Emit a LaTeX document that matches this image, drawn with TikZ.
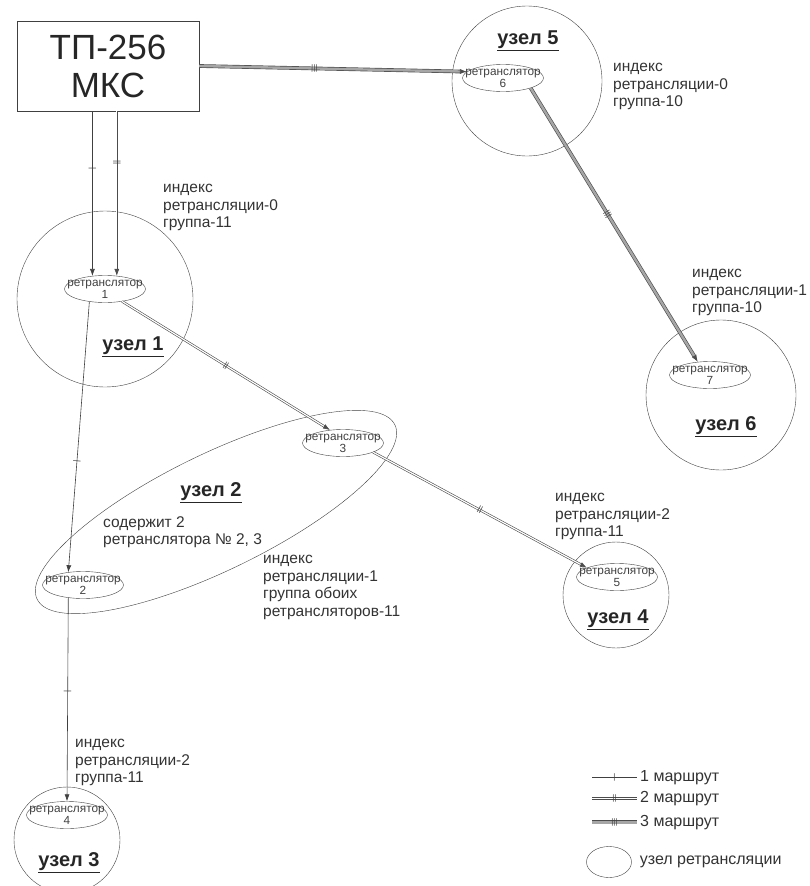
\documentclass[tikz,border=0pt]{standalone}
\usepackage{fontspec}
\setmainfont{Liberation Sans}
\usetikzlibrary{arrows.meta,shapes.geometric,positioning}

\begin{document}
\begin{tikzpicture}[x=1pt, y=-1pt,
    >={Latex[length=7pt,width=5pt]},
    rt1/.style={->, draw=black!75, line width=0.6pt},
    rt2/.style={->, draw=black!70, line width=0.6pt, double=white, double distance=1.2pt},
    rt3/.style={->, draw=black!70, line width=0.65pt, double=gray!70, double distance=2.4pt},
    tick/.style={sloped, inner sep=0pt, text=black!75, font=\fontsize{8}{8}\selectfont},
    rtext/.style={align=center, inner sep=0pt, text=black!75, font=\fontsize{11.8}{12}\selectfont},
    relay/.style={ellipse, draw=black!75, minimum width=81pt, minimum height=27pt, inner sep=0pt,
                  label={[rtext]center:{ретранслятор\\#1}}},
    hub/.style={circle, draw=black!75, inner sep=0pt},
    hubname/.style={inner sep=0pt, text=black!85, font=\fontsize{20}{20}\selectfont\bfseries},
    note/.style={anchor=north west, align=left, inner sep=0pt, text=black!80,
                 font=\fontsize{15.5}{17.5}\selectfont},
    legend/.style={anchor=west, inner sep=0pt, text=black!80, font=\fontsize{16}{16}\selectfont}
]
    \useasboundingbox (0,0) rectangle (810,886);

    \node[draw=black!75, minimum width=182pt, minimum height=90pt, align=center,
          text=black!85, font=\fontsize{35}{38}\selectfont] (mks) at (108,66) {ТП-256\\МКС};

    % nodes
    \node[hub, minimum size=176pt] (hub1) at (105,299) {};
    \node[ellipse, draw=black!75, rotate=26, minimum width=398pt, minimum height=116pt] (hub2) at (216,512) {};
    \node[hub, minimum size=106pt] (hub3) at (67,840) {};
    \node[hub, minimum size=106pt] (hub4) at (616,595) {};
    \node[hub, minimum size=150pt] (hub5) at (527,81) {};
    \node[hub, minimum size=150pt] (hub6) at (721,395) {};

    \node[relay=1] (r1) at (105,289) {};
    \node[relay=2] (r2) at (83,585) {};
    \node[relay=3] (r3) at (343,443) {};
    \node[relay=4] (r4) at (67,815) {};
    \node[relay=5] (r5) at (617,577) {};
    \node[relay=6] (r6) at (503,78) {};
    \node[relay=7] (r7) at (710,375) {};

    \node[hubname] (n1) at (133,347) {\underline{узел 1}};
    \node[hubname] (n2) at (211,493) {\underline{узел 2}};
    \node[hubname] (n3) at (69,863) {\underline{узел 3}};
    \node[hubname] (n4) at (618,620) {\underline{узел 4}};
    \node[hubname] (n5) at (528,41) {\underline{узел 5}};
    \node[hubname] (n6) at (726,427) {\underline{узел 6}};

    \node[note] (i1) at (163,184) {индекс\\ретрансляции-0\\группа-11};
    \node[note] (i2) at (263,555) {индекс\\ретрансляции-1\\группа обоих\\ретрансляторов-11};
    \node[note] (c2) at (103,516) {содержит 2\\ретранслятора № 2, 3};
    \node[note] (i3) at (75,739) {индекс\\ретрансляции-2\\группа-11};
    \node[note] (i4) at (555,493) {индекс\\ретрансляции-2\\группа-11};
    \node[note] (i5) at (613,63) {индекс\\ретрансляции-0\\группа-10};
    \node[note] (i6) at (692,269) {индекс\\ретрансляции-1\\группа-10};

    % routes
    \draw[rt1] (r1.134 |- mks.south) -- node[tick, pos=.35] {|} (r1.134);
    \draw[rt2] (r1.48 |- mks.south) -- node[tick, pos=.31] {||} (r1.48);
    \draw[rt3] (mks.east) -- node[tick, pos=.43] {|||} (r6.170);
    \draw[rt3] (r6.-20) -- node[tick, pos=.46] {|||} (r7.133);
    \draw[rt2] (r1.-36) -- node[tick] {||} (r3.135);
    \draw[rt1] (r1.-141) -- node[tick, pos=.59] {|} (r2.139);
    \draw[rt2] (r3.-17) -- node[tick] {||} (r5.163);
    \draw[rt1] (r2.-139) -- node[tick, pos=.46] {|} (r4.north);

    % legend
    \coordinate (l1a) at (592,777.3); \coordinate (l1b) at (637,777.3);
    \coordinate (l2a) at (592,798.3); \coordinate (l2b) at (637,798.3);
    \coordinate (l3a) at (592,822.3); \coordinate (l3b) at (637,822.3);
    \draw[rt1, -] (l1a) -- node[tick] {|} (l1b);
    \draw[rt2, -] (l2a) -- node[tick] {||} (l2b);
    \draw[rt3, -] (l3a) -- node[tick] {|||} (l3b);
    \node[legend, xshift=3pt] (t1) at (l1b) {1 маршрут};
    \node[legend, xshift=3pt] (t2) at (l2b) {2 маршрут};
    \node[legend, xshift=3pt] (t3) at (l3b) {3 маршрут};
    \node[ellipse, draw=black!75, minimum width=45pt, minimum height=31pt] (lhub) at (609,862) {};
    \node[legend, right=8pt of lhub] (t4) {узел ретрансляции};
\end{tikzpicture}
\end{document}
